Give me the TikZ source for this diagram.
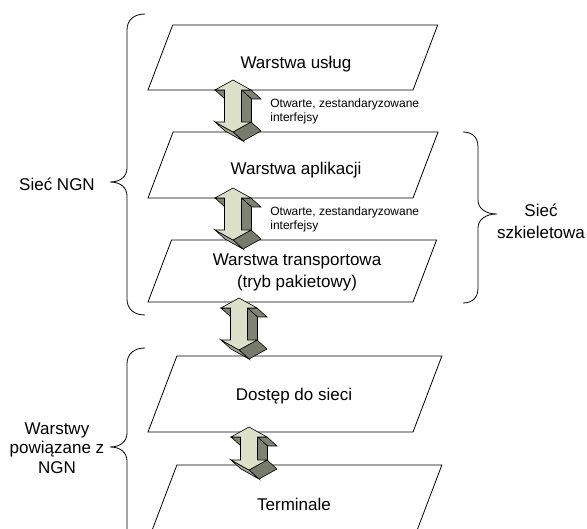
\documentclass[tikz,border=0pt]{standalone}
\usepackage{fontspec}
\setmainfont{Liberation Sans}
\usepackage{tikz}
\definecolor{frontface}{RGB}{221,224,201}
\definecolor{sideface}{RGB}{126,131,116}
\definecolor{lowface}{RGB}{160,164,146}
\definecolor{lowdark}{RGB}{118,123,108}

\tikzset{
  strzalka/.pic={
    \filldraw[sideface, draw=black, line width=0.6] (18,-#1) -- (8.5,-#1) -- (18.5,{-#1+9}) -- (28,{-#1+9}) -- cycle;
    \filldraw[sideface, draw=black, line width=0.6] (8.5,-#1) -- (8.5,#1) -- (18.5,{#1+9}) -- (18.5,{-#1+9}) -- cycle;
    \filldraw[lowdark, draw=black, line width=0.6] (18,#1) -- (0,{#1+10}) -- (10,{#1+19}) -- (28,{#1+9}) -- cycle;
    \filldraw[lowface, draw=black, line width=0.6] (0,{#1+10}) -- (-18,#1) -- (-8,{#1+9}) -- (10,{#1+19}) -- cycle;
    \filldraw[sideface, draw=black, line width=0.6] (-8.5,-#1) -- (-18,-#1) -- (-8,{-#1+9}) -- (1.5,{-#1+9}) -- cycle;
    \filldraw[frontface, draw=black, line width=0.6] (0,{-#1-10}) -- (18,-#1) -- (8.5,-#1) -- (8.5,#1) -- (18,#1)
      -- (0,{#1+10}) -- (-18,#1) -- (-8.5,#1) -- (-8.5,-#1) -- (-18,-#1) -- cycle;
  }
}

% one layer: top y, bottom y
\newcommand{\warstwa}[2]{\draw ({148+0.38*(#2-#1)},#1) -- ({413+0.38*(#2-#1)},#1) -- (413,#2) -- (148,#2) -- cycle;}

\begin{document}
\begin{tikzpicture}[x=1pt, y=-1pt, line width=0.8pt,
  layertext/.style={font=\fontsize{17}{22}\selectfont, align=center, inner sep=0pt},
  smalltext/.style={font=\fontsize{12}{14}\selectfont, align=left, anchor=north west, inner sep=0pt}]
  \useasboundingbox (0,0) rectangle (587,529);
  \clip (0,0) rectangle (587,529);

  \warstwa{25}{90}
  \warstwa{132}{198}
  \warstwa{240}{302}
  \warstwa{356}{432}
  \warstwa{465}{541}

  \node[layertext] (uslugi) at (296,64) {Warstwa usług};
  \node[layertext] (aplikacje) at (296,170) {Warstwa aplikacji};
  \node[layertext] (transport) at (297,272) {Warstwa transportowa\\(tryb pakietowy)};
  \node[layertext] (dostep) at (294,396) {Dostęp do sieci};
  \node[layertext] (terminale) at (294,504) {Terminale};

  \pic at (233,106) {strzalka=16};
  \pic at (233,214) {strzalka=16};
  \pic at (239,324) {strzalka=16};
  \pic at (249,448.5) {strzalka=11.5};

  \node[smalltext] (iface1) at (270,98) {Otwarte, zestandaryzowane\\interfejsy};
  \node[smalltext] (iface2) at (270,206) {Otwarte, zestandaryzowane\\interfejsy};

  % braces
  \draw (145,14) .. controls (134,14) and (127,20) .. (127,30) -- (127,168)
    .. controls (127,176) and (121,182) .. (110,182) .. controls (121,182) and (127,188) .. (127,196)
    -- (127,299) .. controls (127,309) and (134,315) .. (145,315);
  \draw (463,132) .. controls (472,132) and (478,137) .. (478,147) -- (478,200)
    .. controls (478,208) and (485,214) .. (497,214) .. controls (485,214) and (478,220) .. (478,228)
    -- (478,288) .. controls (478,298) and (472,303) .. (463,303);
  \draw (145,348) .. controls (134,348) and (127,354) .. (127,364) -- (127,433)
    .. controls (127,441) and (121,447) .. (110,447) .. controls (121,447) and (127,453) .. (127,461)
    -- (127,530) .. controls (127,540) and (134,546) .. (145,546);

  \node[layertext] (ngn) at (57,184) {Sieć NGN};
  \node[layertext] (szkielet) at (541,221) {Sieć\\szkieletowa};
  \node[layertext, font=\fontsize{17}{19.5}\selectfont] (powiazane) at (57,448) {Warstwy\\powiązane z\\NGN};
\end{tikzpicture}
\end{document}
